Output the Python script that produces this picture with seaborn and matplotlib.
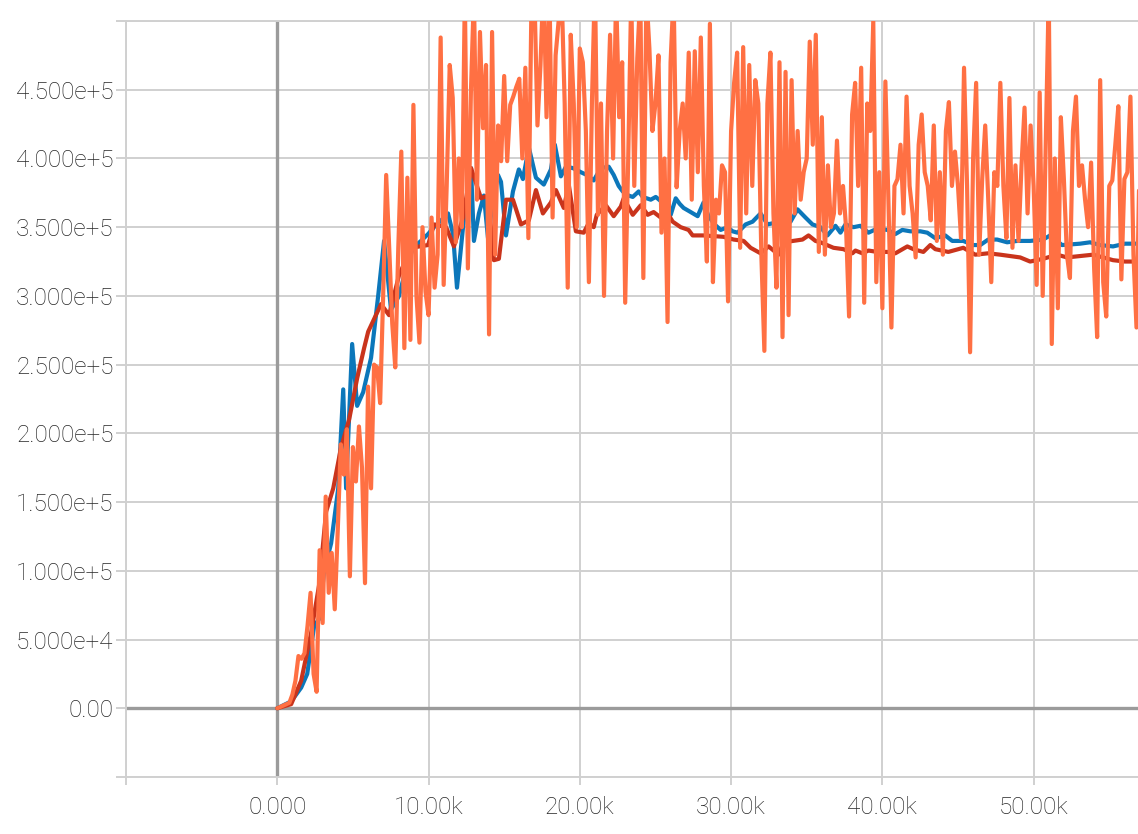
import numpy as np
import pandas as pd
import matplotlib
matplotlib.use("Agg")
import matplotlib.pyplot as plt
import seaborn as sns

# ---------------- data (steps and values in thousands) ----------------
blue_steps_k = [0.00, 0.92, 1.58, 1.98, 2.44, 2.77, 3.10, 3.56, 4.03, 4.36, 4.55, 4.95, 5.28, 5.68,
                6.20, 6.67, 7.06, 7.52, 8.05, 8.51, 8.98, 9.50, 9.97, 10.36, 10.83, 11.29, 11.62,
                11.88, 12.28, 12.81, 13.00, 13.33, 13.66, 13.93, 14.26, 14.59, 14.79, 15.12, 15.58,
                15.97, 16.24, 16.63, 17.10, 17.62, 18.09, 18.35, 18.75, 19.08, 19.54, 20.07, 20.46,
                20.92, 21.39, 21.91, 22.24, 22.57, 22.84, 23.23, 23.50, 23.89, 24.16, 24.69, 25.02,
                25.35, 25.68, 26.01, 26.34, 26.60, 26.86, 27.33, 27.79, 28.18, 28.51, 28.91, 29.31,
                29.77, 30.10, 30.43, 30.96, 31.42, 31.95, 32.41, 32.81, 33.27, 33.93, 34.39, 34.92,
                35.38, 35.91, 36.37, 36.90, 37.23, 37.56, 38.09, 38.55, 39.08, 39.67, 40.33, 40.86,
                41.32, 41.85, 42.51, 42.97, 43.50, 44.16, 44.62, 45.35, 46.01, 46.47, 47.00, 47.59,
                48.25, 48.91, 49.77, 50.63, 51.09, 51.42, 51.88, 53.07, 53.73, 54.39, 55.25, 56.04,
                56.90]
blue_vals_k = [0, 5, 15, 25, 60, 65, 100, 120, 160, 232, 160, 265, 220, 230,
               255, 300, 340, 290, 300, 320, 335, 340, 345, 350, 355, 360, 345,
               306, 350, 393, 340, 360, 373, 342, 370, 388, 383, 344, 376,
               392, 385, 408, 386, 381, 392, 410, 387, 394, 393, 390, 388,
               384, 393, 394, 388, 380, 376, 373, 372, 376, 372, 370, 372,
               369, 365, 359, 371, 367, 364, 361, 358, 368, 358, 352, 348,
               350, 347, 346, 352, 354, 360, 352, 353, 352, 354, 363, 357,
               352, 350, 344, 351, 346, 352, 350, 351, 346, 349, 348, 345,
               348, 347, 347, 346, 342, 344, 340, 340, 337, 337, 341, 341,
               339, 340, 340, 341, 344, 341, 337, 338, 339, 337, 336, 338,
               338]

red_steps_k = [0.00, 0.92, 1.58, 2.24, 2.77, 3.23, 3.70, 4.22, 4.75, 5.28, 5.74, 6.01, 6.86, 7.39,
               8.05, 8.84, 9.97, 10.36, 11.16, 11.68, 12.28, 12.81, 13.47, 13.93, 14.32, 14.65,
               15.12, 15.58, 16.11, 16.63, 17.10, 17.56, 18.09, 18.42, 18.94, 19.27, 19.74, 20.26,
               20.59, 20.92, 21.12, 21.72, 22.24, 22.71, 22.90, 23.50, 24.03, 24.49, 24.88, 25.35,
               25.81, 26.14, 26.67, 27.19, 27.46, 28.18, 29.50, 30.17, 30.83, 31.29, 31.95, 32.48,
               33.14, 33.47, 34.72, 35.12, 35.58, 35.91, 36.77, 37.43, 38.02, 38.22, 38.68, 39.08,
               39.67, 40.33, 40.86, 41.65, 42.05, 42.71, 43.17, 43.50, 44.36, 45.35, 46.14, 47.00,
               47.79, 49.11, 49.77, 50.63, 51.55, 52.21, 53.07, 53.93, 55.25, 56.04, 56.90]
red_vals_k = [0, 3, 20, 55, 90, 143, 160, 190, 210, 240, 262, 274, 294, 286,
              315, 335, 337, 352, 350, 336, 357, 393, 371, 373, 326, 327,
              370, 370, 352, 355, 377, 360, 368, 377, 364, 381, 347, 346,
              353, 350, 359, 366, 358, 365, 371, 359, 366, 359, 361, 357,
              360, 354, 350, 348, 344, 344, 343, 341, 340, 335, 331, 336,
              330, 339, 341, 344, 340, 339, 335, 334, 331, 333, 331, 333,
              332, 332, 331, 336, 334, 332, 337, 334, 332, 335, 330, 331,
              330, 328, 325, 327, 330, 328, 329, 330, 326, 325, 325]

orange_step = 200
orange_vals_k = [
    0, 1, 2, 3, 4, 10, 20, 38, 36, 40, 60, 84, 25, 12, 115, 62, 154, 84, 113, 72,
    130, 192, 170, 203, 96, 190, 165, 205, 175, 91, 234, 160, 250, 248, 222, 300, 388, 335, 280, 248,
    335, 405, 262, 386, 268, 439, 300, 266, 350, 303, 286,
    357, 306, 330, 488, 308, 380, 468, 444, 339, 400, 350, 520, 320, 448, 520, 370, 492, 422, 468,
    272, 492, 330, 424, 398, 460, 398, 439, 445, 452, 458, 400, 466, 342, 510, 520, 424, 468, 530, 430,
    520, 357, 475, 500, 520, 440, 306, 490, 440, 350, 480,
    470, 420, 310, 440, 530, 359, 440, 300, 420, 490, 400, 520, 430, 470, 295, 400, 520, 380, 473,
    520, 313, 520, 480, 420, 440, 475, 346, 400, 281, 470, 520, 379, 420, 440, 400, 477, 370, 478, 390,
    488, 380, 325, 498, 310, 370, 360, 395, 390, 296, 420, 455, 477, 335, 481, 360, 468, 380, 457, 440,
    330, 260, 440, 477, 360, 306, 470, 270, 463, 286, 457, 360, 420, 370, 390, 400, 485, 410, 490, 332,
    430, 330, 395, 350, 360, 413, 360, 380, 350, 285, 432, 455, 380, 466, 295, 440, 420, 500, 310, 390,
    291, 456, 370, 277, 380, 385, 410, 360, 445, 380, 360, 328, 410, 432, 390, 380, 355, 424, 340, 390,
    330, 420, 441, 380, 405, 380, 342, 466, 380, 259, 400, 455, 330, 385, 424, 370, 310, 390, 380, 455,
    380, 342, 444, 335, 395, 340, 395, 437, 360, 424, 380, 308, 448, 300, 410, 520, 265, 400, 291, 430,
    385, 330, 313, 420, 445, 380, 395, 370, 350, 397, 320, 270, 457, 310, 285, 380, 384, 410, 438, 312,
    385, 390, 445, 330, 277, 397]

xtick_vals = [-10000, 0, 10000, 20000, 30000, 40000, 50000]
xtick_labels = ["", "0.000", "10.00k", "20.00k", "30.00k", "40.00k", "50.00k"]
ytick_vals = [-50000, 0, 50000, 100000, 150000, 200000, 250000, 300000, 350000, 400000, 450000, 500000]
ytick_labels = ["", "0.00", "5.000e+4", "1.000e+5", "1.500e+5", "2.000e+5", "2.500e+5",
                "3.000e+5", "3.500e+5", "4.000e+5", "4.500e+5", ""]

# ---------------- style ----------------
sns.set_style("white")
plt.rcParams['font.family'] = ['Roboto', 'DejaVu Sans']
plt.rcParams['font.weight'] = 'light'

GRID = '#d0d0d0'
ZERO = '#9b9b9b'
TEXT = '#262626'

fig = plt.figure(figsize=(11.38, 8.34), dpi=100)
ax = fig.add_axes([126 / 1138, 57 / 834, 1012 / 1138, 756 / 834])

df_b = pd.DataFrame({'step': np.array(blue_steps_k) * 1000, 'value': np.array(blue_vals_k) * 1000})
df_r = pd.DataFrame({'step': np.array(red_steps_k) * 1000, 'value': np.array(red_vals_k) * 1000})
df_o = pd.DataFrame({'step': np.arange(len(orange_vals_k)) * orange_step,
                     'value': np.array(orange_vals_k) * 1000})

sns.lineplot(data=df_b, x='step', y='value', ax=ax, color='#0c77ba', linewidth=3.0,
             estimator=None, sort=False, zorder=3)
sns.lineplot(data=df_r, x='step', y='value', ax=ax, color='#c9341c', linewidth=3.0,
             estimator=None, sort=False, zorder=4)
sns.lineplot(data=df_o, x='step', y='value', ax=ax, color='#ff7043', linewidth=3.0,
             estimator=None, sort=False, zorder=5)

ax.set_xlim(-10000, 56900)
ax.set_ylim(-50000, 500000)
ax.set_xticks(xtick_vals)
ax.set_xticklabels(xtick_labels)
ax.set_yticks(ytick_vals)
ax.set_yticklabels(ytick_labels)
ax.set_xlabel('')
ax.set_ylabel('')

ax.set_axisbelow(True)
ax.grid(True, color=GRID, linewidth=1.4)
ax.axhline(0, color=ZERO, linewidth=2.4, zorder=2)
ax.axvline(0, color=ZERO, linewidth=2.4, zorder=2)

for side in ['left', 'bottom', 'top']:
    ax.spines[side].set_color(GRID)
    ax.spines[side].set_linewidth(1.4)
ax.spines['right'].set_visible(False)

ax.tick_params(axis='y', length=7, width=1.4, color=GRID, pad=2, labelsize=17.5,
               labelcolor=TEXT, left=True)
ax.tick_params(axis='x', length=6, width=1.4, color=GRID, pad=8, labelsize=17.5,
               labelcolor=TEXT, bottom=True)

fig.savefig('out.png', dpi=100)
